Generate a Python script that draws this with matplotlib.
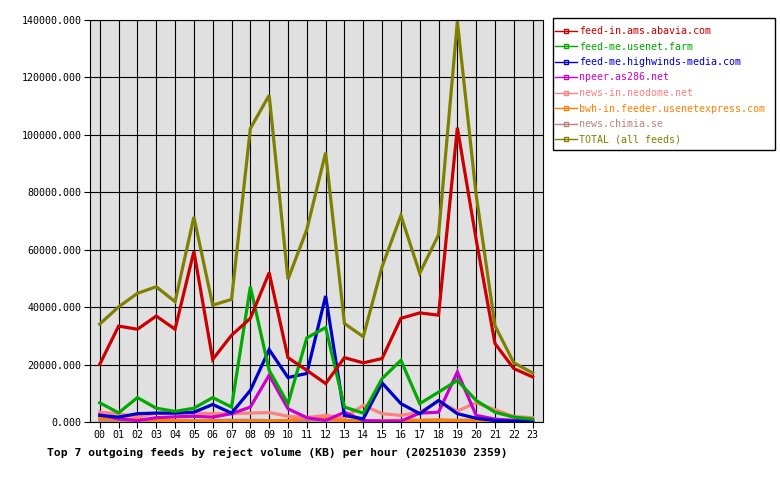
import matplotlib
matplotlib.use("Agg")
import matplotlib.pyplot as plt
from matplotlib.lines import Line2D
from matplotlib.patches import Rectangle
import numpy as np

# hours of the day
hours = ["%02d" % h for h in range(24)]

# reject volume (KB) per hour
abavia = [20100, 33400, 32300, 36900, 32300, 59400, 21800, 30200, 36100, 52000, 22400, 18000,
          13400, 22400, 20600, 22100, 36100, 38000, 37200, 102500, 63500, 27300, 18600, 15700]
usenet_farm = [6700, 3200, 8500, 4800, 3700, 4800, 8500, 5200, 47100, 18000, 6400, 29300,
               32900, 5200, 3100, 15100, 21500, 6400, 10400, 14500, 7500, 3400, 1700, 1000]
highwinds = [2300, 1700, 2900, 3100, 3100, 3400, 6100, 3100, 11000, 25200, 15500, 16900,
             43900, 2300, 1100, 13600, 6400, 2900, 7500, 2900, 1300, 500, 300, 200]
npeer = [2500, 1100, 500, 1500, 1800, 2000, 1700, 2900, 5200, 16300, 4600, 1500,
         500, 3400, 500, 300, 300, 3100, 3400, 17400, 2300, 1000, 500, 300]
neodome = [3400, 2900, 1700, 3100, 3100, 3100, 2900, 2900, 3100, 3300, 2000, 1500,
           2300, 1500, 5800, 2900, 2300, 3400, 7200, 3800, 6700, 4300, 1900, 1500]
usenetexpress = [1300, 1100, 900, 600, 400, 300, 300, 200, 200, 300, 400, 1700,
                 1200, 500, 300, 400, 300, 500, 600, 400, 500, 700, 600, 500]
chimia = [600, 500, 500, 400, 400, 400, 500, 600, 600, 500, 500, 600,
          700, 600, 500, 500, 600, 600, 700, 600, 700, 600, 600, 500]
total = [34100, 40100, 44800, 47100, 41900, 71400, 40700, 42700, 102200, 113800, 49700, 67000,
         93800, 34300, 29700, 54100, 71900, 51800, 65200, 139500, 79000, 33500, 20600, 17100]

names = ["feed-in.ams.abavia.com", "feed-me.usenet.farm", "feed-me.highwinds-media.com",
         "npeer.as286.net", "news-in.neodome.net", "bwh-in.feeder.usenetexpress.com",
         "news.chimia.se", "TOTAL (all feeds)"]
colors = ["#cc0000", "#00aa00", "#0000cc", "#cc00cc", "#ff8080", "#ff8000", "#c08080", "#808000"]
series = [abavia, usenet_farm, highwinds, npeer, neodome, usenetexpress, chimia, total]

mono = "DejaVu Sans Mono"
plt.rcParams['font.family'] = mono

fig = plt.figure(figsize=(7.8, 4.8), dpi=100)
ax = fig.add_axes([90/780, 58/480, 453/780, 402/480])
ax.set_facecolor("#e0e0e0")

x = np.arange(24)
# draw small ones first, total on top as in the original
order = [6, 5, 4, 3, 2, 1, 0, 7]
for i in order:
    ax.plot(x, series[i], color=colors[i], lw=2.3, solid_joinstyle='miter', zorder=3)

ax.set_xlim(-0.52, 23.55)
ax.set_ylim(0, 140000)
ax.set_xticks(x)
ax.set_xticklabels(hours, fontsize=7.2)
yt = np.arange(0, 140001, 20000)
ax.set_yticks(yt)
ax.set_yticklabels(["%d.000" % v for v in yt], fontsize=7.2)
ax.grid(True, color="black", lw=0.8, zorder=1)
ax.set_axisbelow(True)
ax.tick_params(direction="out", length=4, width=0.8, color="black", pad=2)
for s in ax.spines.values():
    s.set_color("black")
    s.set_linewidth(0.8)

# legend box drawn by hand, the padding is not even on all sides
fig.patches.append(Rectangle((553/780, 1 - 150/480), 222/780, 132/480, transform=fig.transFigure,
                             facecolor="white", edgecolor="black", lw=1.0, zorder=0))

handles = [Line2D([0, 0.5, 1], [0, 0, 0], color=c, lw=1.0, marker='s', markersize=2.5,
                  markerfacecolor='none', markeredgecolor=c, markevery=[1])
           for c in colors]
leg = fig.legend(handles, names, loc="upper left", bbox_to_anchor=(555/780, 1 - 26/480),
                 prop={'family': mono, 'size': 7.2}, labelcolor=colors,
                 frameon=False, handlelength=2.2, handletextpad=0.2, labelspacing=0.55,
                 borderpad=0, borderaxespad=0)

fig.text(47/780, 1 - 452/480, "Top 7 outgoing feeds by reject volume (KB) per hour (20251030 2359)",
         fontsize=8.2, fontweight="bold", family=mono, ha="left", va="center")

fig.savefig("out.png", dpi=100)
